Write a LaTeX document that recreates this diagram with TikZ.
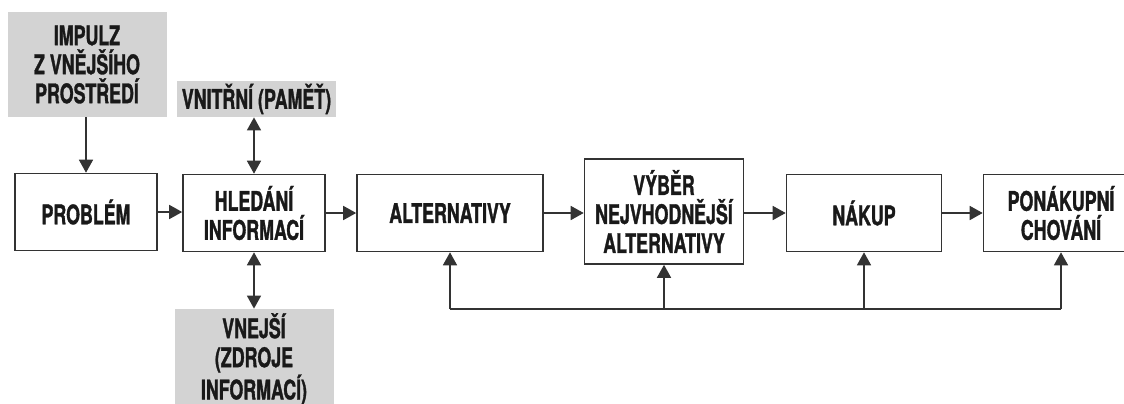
\documentclass[tikz,border=0pt]{standalone}
\usepackage{fontspec}
\setmainfont{TeX Gyre Heros}[FakeStretch=0.66,FakeBold=1.2]
\usepackage{tikz}
\usetikzlibrary{arrows.meta}
\definecolor{linegray}{HTML}{333333}
\definecolor{boxgray}{HTML}{D3D3D3}
\tikzstyle{stage} = [rectangle,draw=linegray,line width=0.8pt,fill=white,text=black!90,align=center,inner sep=0pt,font=\bfseries\fontsize{13.5}{14.5}\selectfont]
\tikzstyle{source} = [rectangle,fill=boxgray,text=black!90,align=center,inner sep=0pt,font=\bfseries\fontsize{13.5}{14.5}\selectfont]
\tikzstyle{arrow} = [draw=linegray,line width=0.8pt,-{Triangle[length=6.5pt,width=7pt]}]
\tikzstyle{darrow} = [draw=linegray,line width=0.8pt,{Triangle[length=6.5pt,width=7pt]}-{Triangle[length=6.5pt,width=7pt]}]

\begin{document}
\begin{tikzpicture}[x=0.5pt,y=-0.5pt]
\useasboundingbox (0,0) rectangle (1124,403);
\clip (0,0) rectangle (1124,403);
\node (impulz) [source,minimum width=79.5pt,minimum height=52.5pt] at (87,64.5) {IMPULZ\\Z VNĚJŠÍHO\\PROSTŘEDÍ};
\node (vnitrni) [source,minimum width=79.5pt,minimum height=18pt] at (256.5,99) {VNITŘNÍ (PAMĚŤ)};
\node (problem) [stage,minimum width=71pt,minimum height=38.5pt] at (86,212) {PROBLÉM};
\node (hledani) [stage,minimum width=71pt,minimum height=38.5pt] at (254,213) {HLEDÁNÍ\\INFORMACÍ};
\node (vnejsi) [source,minimum width=79.5pt,minimum height=50pt] at (254,359) {VNEJŠÍ\\(ZDROJE\\INFORMACÍ)};
\node (alt) [stage,minimum width=93pt,minimum height=38.5pt] at (450,213) {ALTERNATIVY};
\node (vyber) [stage,minimum width=79.5pt,minimum height=52.5pt] at (664,211.5) {VÝBĚR\\NEJVHODNĚJŠÍ\\ALTERNATIVY};
\node (nakup) [stage,minimum width=77.5pt,minimum height=38.5pt] at (864,213) {NÁKUP};
\node (ponakupni) [stage,minimum width=77.5pt,minimum height=38.5pt] at (1061,213) {PONÁKUPNÍ\\CHOVÁNÍ};
\coordinate (loop) at (0,309);

\draw [arrow] (problem.north |- impulz.south) -- (problem.north);
\draw [darrow] (hledani.north |- vnitrni.south) -- (hledani.north);
\draw [darrow] (hledani.south) -- (hledani.south |- vnejsi.north);
\draw [arrow] (problem.east) -- (hledani.west |- problem.east);
\draw [arrow] (hledani.east) -- (alt.west);
\draw [arrow] (alt.east) -- (vyber.west |- alt.east);
\draw [arrow] (vyber.east |- nakup.west) -- (nakup.west);
\draw [arrow] (nakup.east) -- (ponakupni.west);
\draw [draw=linegray,line width=0.8pt] (alt.south |- loop) -- (ponakupni.south |- loop);
\draw [arrow] (alt.south |- loop) -- (alt.south);
\draw [arrow] (vyber.south |- loop) -- (vyber.south);
\draw [arrow] (nakup.south |- loop) -- (nakup.south);
\draw [arrow] (ponakupni.south |- loop) -- (ponakupni.south);
\end{tikzpicture}
\end{document}
